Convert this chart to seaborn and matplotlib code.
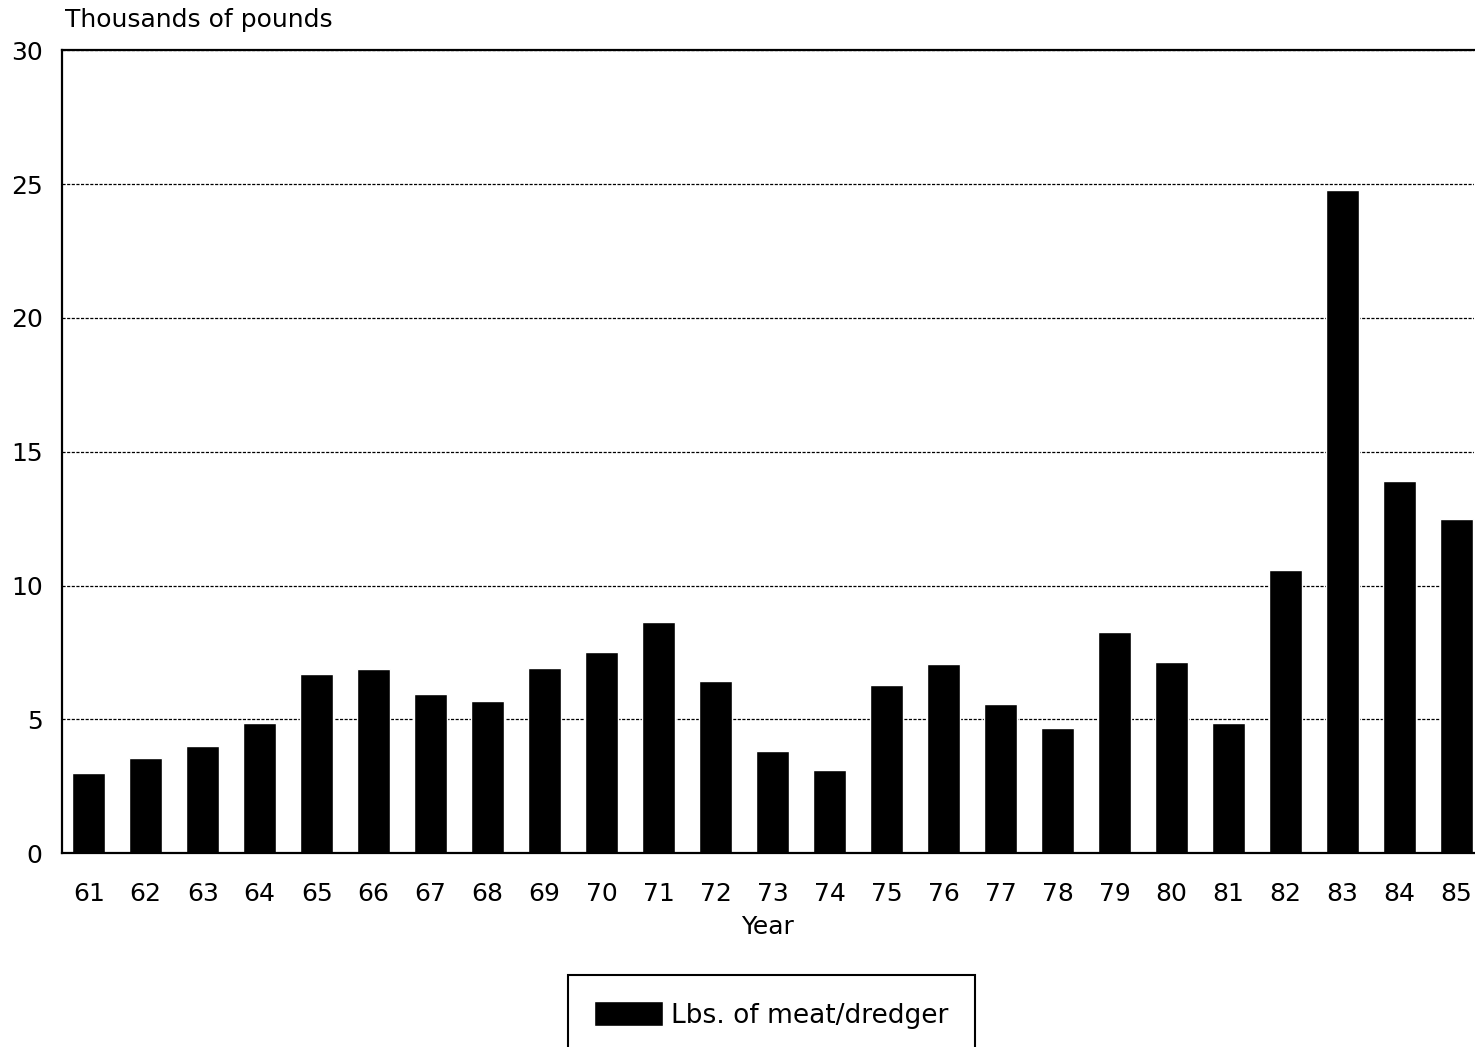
import seaborn as sns
import matplotlib
matplotlib.use("Agg")
import matplotlib.pyplot as plt
import pandas as pd

years = ["61", "62", "63", "64", "65", "66", "67", "68", "69", "70", "71", "72", "73",
         "74", "75", "76", "77", "78", "79", "80", "81", "82", "83", "84", "85"]
meat_per_dredger = [3.0, 3.55, 4.0, 4.86, 6.69, 6.87, 5.94, 5.68, 6.91, 7.51, 8.63, 6.43, 3.81,
                    3.10, 6.28, 7.06, 5.57, 4.67, 8.26, 7.13, 4.86, 10.57, 24.77, 13.9, 12.48]
y_ticks = [0, 5, 10, 15, 20, 25, 30]

sns.set_style("white")
plt.rcParams["font.family"] = ["DejaVu Sans"]
plt.rcParams["text.color"] = "black"
plt.rcParams["axes.labelcolor"] = "black"

df = pd.DataFrame({"year": years, "lbs": meat_per_dredger})

fig = plt.figure(figsize=(14.75, 10.47), dpi=100)
ax = fig.add_axes([0.042, 0.185, 0.957, 0.767])

sns.barplot(data=df, x="year", y="lbs", color="black", saturation=1, width=0.58,
            label="Lbs. of meat/dredger", ax=ax)

ax.set_ylim(0, 30)
ax.set_xlim(-0.47, 24.3)
ax.set_yticks(y_ticks)
ax.yaxis.grid(True, linestyle=(0, (2.5, 1.2)), color="black", linewidth=0.9)
ax.set_axisbelow(True)
for s in ["left", "bottom", "top"]:
    ax.spines[s].set_color("black")
    ax.spines[s].set_linewidth(1.6)
ax.spines["right"].set_visible(False)
ax.tick_params(axis="both", length=0, labelsize=18, colors="black")
ax.tick_params(axis="x", pad=21)
ax.tick_params(axis="y", pad=14)

ax.set_xlabel("Year", fontsize=18, labelpad=6)
ax.set_ylabel("")
fig.text(0.044, 0.981, "Thousands of pounds", fontsize=18, ha="left", va="center")

leg = ax.legend(loc="upper center", bbox_to_anchor=(0.523, 0.069),
                bbox_transform=fig.transFigure, borderaxespad=0, frameon=True,
                fontsize=19, handlelength=2.6, handleheight=1.1, handletextpad=0.3,
                borderpad=1.0, fancybox=False, edgecolor="black")
leg.get_frame().set_linewidth(1.5)
leg.get_frame().set_alpha(1)

fig.savefig("out.png", dpi=100, facecolor="white")
